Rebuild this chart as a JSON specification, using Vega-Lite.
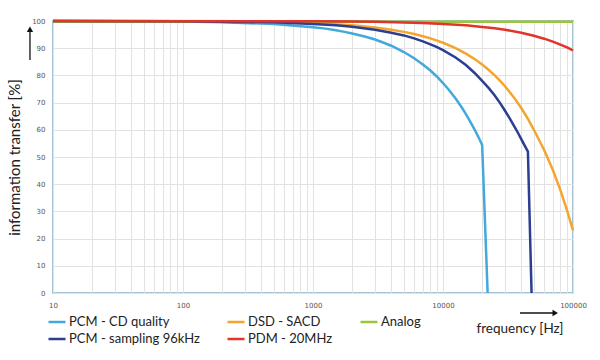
{
  "$schema": "https://vega.github.io/schema/vega-lite/v6.json",
  "width": 520,
  "height": 272,
  "autosize": "none",
  "padding": {"left": 53, "top": 21, "right": 27, "bottom": 67},
  "background": "white",
  "config": {
    "view": {"stroke": "#a4c3d4", "strokeWidth": 2},
    "font": "Lato"
  },
  "datasets": {
    "lines": [
      {"f": 10, "v": 100, "s": "PCM - CD quality"},
      {"f": 100, "v": 99.8, "s": "PCM - CD quality"},
      {"f": 200, "v": 99.5, "s": "PCM - CD quality"},
      {"f": 500, "v": 98.9, "s": "PCM - CD quality"},
      {"f": 1000, "v": 97.7, "s": "PCM - CD quality"},
      {"f": 1250, "v": 97.2, "s": "PCM - CD quality"},
      {"f": 1500, "v": 96.6, "s": "PCM - CD quality"},
      {"f": 1750, "v": 96, "s": "PCM - CD quality"},
      {"f": 2000, "v": 95.4, "s": "PCM - CD quality"},
      {"f": 2500, "v": 94.3, "s": "PCM - CD quality"},
      {"f": 3000, "v": 93.2, "s": "PCM - CD quality"},
      {"f": 3500, "v": 92, "s": "PCM - CD quality"},
      {"f": 4000, "v": 90.9, "s": "PCM - CD quality"},
      {"f": 5000, "v": 88.6, "s": "PCM - CD quality"},
      {"f": 6000, "v": 86.3, "s": "PCM - CD quality"},
      {"f": 7000, "v": 84, "s": "PCM - CD quality"},
      {"f": 8000, "v": 81.8, "s": "PCM - CD quality"},
      {"f": 9000, "v": 79.5, "s": "PCM - CD quality"},
      {"f": 10000, "v": 77.2, "s": "PCM - CD quality"},
      {"f": 11000, "v": 74.9, "s": "PCM - CD quality"},
      {"f": 12500, "v": 71.5, "s": "PCM - CD quality"},
      {"f": 14000, "v": 68.1, "s": "PCM - CD quality"},
      {"f": 15000, "v": 65.8, "s": "PCM - CD quality"},
      {"f": 16000, "v": 63.5, "s": "PCM - CD quality"},
      {"f": 17500, "v": 60.1, "s": "PCM - CD quality"},
      {"f": 19000, "v": 56.7, "s": "PCM - CD quality"},
      {"f": 20000, "v": 54.4, "s": "PCM - CD quality"},
      {"f": 22050, "v": 0, "s": "PCM - CD quality"},
      {"f": 10, "v": 100, "s": "DSD - SACD"},
      {"f": 100, "v": 99.9, "s": "DSD - SACD"},
      {"f": 500, "v": 99.6, "s": "DSD - SACD"},
      {"f": 1000, "v": 99.2, "s": "DSD - SACD"},
      {"f": 1500, "v": 98.8, "s": "DSD - SACD"},
      {"f": 2000, "v": 98.4, "s": "DSD - SACD"},
      {"f": 3000, "v": 97.6, "s": "DSD - SACD"},
      {"f": 4000, "v": 96.8, "s": "DSD - SACD"},
      {"f": 5000, "v": 96, "s": "DSD - SACD"},
      {"f": 6000, "v": 95.2, "s": "DSD - SACD"},
      {"f": 7000, "v": 94.4, "s": "DSD - SACD"},
      {"f": 8000, "v": 93.6, "s": "DSD - SACD"},
      {"f": 9000, "v": 92.8, "s": "DSD - SACD"},
      {"f": 10000, "v": 92, "s": "DSD - SACD"},
      {"f": 12500, "v": 90, "s": "DSD - SACD"},
      {"f": 15000, "v": 88, "s": "DSD - SACD"},
      {"f": 17500, "v": 86, "s": "DSD - SACD"},
      {"f": 20000, "v": 84, "s": "DSD - SACD"},
      {"f": 22500, "v": 82, "s": "DSD - SACD"},
      {"f": 25000, "v": 80, "s": "DSD - SACD"},
      {"f": 27500, "v": 78, "s": "DSD - SACD"},
      {"f": 30000, "v": 76, "s": "DSD - SACD"},
      {"f": 35000, "v": 72, "s": "DSD - SACD"},
      {"f": 40000, "v": 68, "s": "DSD - SACD"},
      {"f": 45000, "v": 64, "s": "DSD - SACD"},
      {"f": 50000, "v": 60, "s": "DSD - SACD"},
      {"f": 60000, "v": 52.6, "s": "DSD - SACD"},
      {"f": 70000, "v": 45.2, "s": "DSD - SACD"},
      {"f": 80000, "v": 37.8, "s": "DSD - SACD"},
      {"f": 90000, "v": 30.4, "s": "DSD - SACD"},
      {"f": 100000, "v": 23, "s": "DSD - SACD"},
      {"f": 10, "v": 99.7, "s": "Analog"},
      {"f": 100000, "v": 99.7, "s": "Analog"},
      {"f": 10, "v": 100, "s": "PCM - sampling 96kHz"},
      {"f": 100, "v": 99.9, "s": "PCM - sampling 96kHz"},
      {"f": 500, "v": 99.5, "s": "PCM - sampling 96kHz"},
      {"f": 1000, "v": 98.9, "s": "PCM - sampling 96kHz"},
      {"f": 1500, "v": 98.4, "s": "PCM - sampling 96kHz"},
      {"f": 2000, "v": 97.9, "s": "PCM - sampling 96kHz"},
      {"f": 3000, "v": 96.8, "s": "PCM - sampling 96kHz"},
      {"f": 4000, "v": 95.7, "s": "PCM - sampling 96kHz"},
      {"f": 5000, "v": 94.7, "s": "PCM - sampling 96kHz"},
      {"f": 6000, "v": 93.6, "s": "PCM - sampling 96kHz"},
      {"f": 7000, "v": 92.5, "s": "PCM - sampling 96kHz"},
      {"f": 8000, "v": 91.4, "s": "PCM - sampling 96kHz"},
      {"f": 9000, "v": 90.4, "s": "PCM - sampling 96kHz"},
      {"f": 10000, "v": 89.3, "s": "PCM - sampling 96kHz"},
      {"f": 12500, "v": 86.6, "s": "PCM - sampling 96kHz"},
      {"f": 15000, "v": 83.8, "s": "PCM - sampling 96kHz"},
      {"f": 17500, "v": 80.9, "s": "PCM - sampling 96kHz"},
      {"f": 20000, "v": 78, "s": "PCM - sampling 96kHz"},
      {"f": 22500, "v": 75.3, "s": "PCM - sampling 96kHz"},
      {"f": 25000, "v": 72.6, "s": "PCM - sampling 96kHz"},
      {"f": 27500, "v": 69.8, "s": "PCM - sampling 96kHz"},
      {"f": 30000, "v": 67, "s": "PCM - sampling 96kHz"},
      {"f": 32500, "v": 64.3, "s": "PCM - sampling 96kHz"},
      {"f": 35000, "v": 61.6, "s": "PCM - sampling 96kHz"},
      {"f": 37500, "v": 59.1, "s": "PCM - sampling 96kHz"},
      {"f": 40000, "v": 56.6, "s": "PCM - sampling 96kHz"},
      {"f": 42500, "v": 54.2, "s": "PCM - sampling 96kHz"},
      {"f": 45000, "v": 52, "s": "PCM - sampling 96kHz"},
      {"f": 48000, "v": 0, "s": "PCM - sampling 96kHz"},
      {"f": 10, "v": 100, "s": "PDM - 20MHz"},
      {"f": 1000, "v": 99.9, "s": "PDM - 20MHz"},
      {"f": 2000, "v": 99.8, "s": "PDM - 20MHz"},
      {"f": 3000, "v": 99.7, "s": "PDM - 20MHz"},
      {"f": 5000, "v": 99.45, "s": "PDM - 20MHz"},
      {"f": 7000, "v": 99.25, "s": "PDM - 20MHz"},
      {"f": 10000, "v": 98.9, "s": "PDM - 20MHz"},
      {"f": 15000, "v": 98.4, "s": "PDM - 20MHz"},
      {"f": 20000, "v": 97.8, "s": "PDM - 20MHz"},
      {"f": 25000, "v": 97.3, "s": "PDM - 20MHz"},
      {"f": 30000, "v": 96.8, "s": "PDM - 20MHz"},
      {"f": 40000, "v": 95.7, "s": "PDM - 20MHz"},
      {"f": 50000, "v": 94.6, "s": "PDM - 20MHz"},
      {"f": 60000, "v": 93.5, "s": "PDM - 20MHz"},
      {"f": 70000, "v": 92.4, "s": "PDM - 20MHz"},
      {"f": 80000, "v": 91.3, "s": "PDM - 20MHz"},
      {"f": 90000, "v": 90.3, "s": "PDM - 20MHz"},
      {"f": 100000, "v": 89.2, "s": "PDM - 20MHz"}
    ],
    "shafts": [
      {"f": 6.65, "v": 85.7, "f2": 6.65, "v2": 96},
      {"f": 39100, "v": -7.35, "f2": 70200, "v2": -7.35}
    ],
    "heads": [
      {"f": 6.65, "v": 97, "shape": "triangle-up"},
      {"f": 73000, "v": -7.35, "shape": "triangle-right"}
    ]
  },
  "encoding": {
    "x": {
      "field": "f",
      "type": "quantitative",
      "scale": {"type": "log", "domain": [10, 100000], "nice": false},
      "axis": {
        "values": [10, 20, 30, 40, 50, 60, 70, 80, 90, 100, 200, 300, 400, 500, 600, 700, 800, 900, 1000, 2000, 3000, 4000, 5000, 6000, 7000, 8000, 9000, 10000, 20000, 30000, 40000, 50000, 60000, 70000, 80000, 90000, 100000],
        "format": "d",
        "labelExpr": "indexof(['10','100','1000','10000','100000'], datum.label) >= 0 ? datum.label : ''",
        "grid": true,
        "gridColor": "#e2e2e2",
        "gridWidth": 1,
        "ticks": false,
        "domain": false,
        "labelFont": "DejaVu Sans",
        "labelFontSize": 7,
        "labelColor": "#555555",
        "labelPadding": 8,
        "labelFlush": false,
        "labelOverlap": false,
        "title": "frequency [Hz]",
        "titleFont": "Lato",
        "titleFontSize": 13.5,
        "titleFontWeight": "normal",
        "titleColor": "#222222",
        "titleAlign": "right",
        "titleBaseline": "middle",
        "titleX": 510,
        "titleY": 35
      }
    },
    "y": {
      "field": "v",
      "type": "quantitative",
      "scale": {"domain": [0, 100], "nice": false},
      "axis": {
        "values": [0, 10, 20, 30, 40, 50, 60, 70, 80, 90, 100],
        "grid": true,
        "gridColor": "#e2e2e2",
        "gridWidth": 1,
        "ticks": false,
        "domain": false,
        "labelFont": "DejaVu Sans",
        "labelFontSize": 7,
        "labelColor": "#555555",
        "labelPadding": 8,
        "labelFlush": false,
        "title": "information transfer [%]",
        "titleFont": "Lato",
        "titleFontSize": 15,
        "titleFontWeight": "normal",
        "titleColor": "#222222",
        "titleX": -31
      }
    }
  },
  "layer": [
    {
      "data": {"name": "lines"},
      "mark": {"type": "line", "strokeWidth": 2.5, "interpolate": "linear"},
      "encoding": {
        "color": {
          "field": "s",
          "type": "nominal",
          "scale": {
            "domain": ["PCM - CD quality", "DSD - SACD", "Analog", "PCM - sampling 96kHz", "PDM - 20MHz"],
            "range": ["#43a8dc", "#f3a530", "#9cc53c", "#2b3e91", "#e2352a"]
          },
          "legend": {
            "title": null,
            "orient": "none",
            "legendX": -6,
            "legendY": 291,
            "direction": "horizontal",
            "columns": 3,
            "columnPadding": 22,
            "rowPadding": 0,
            "padding": 0,
            "symbolType": "stroke",
            "symbolSize": 289,
            "symbolStrokeWidth": 2.5,
            "labelOffset": 2,
            "labelFont": "Lato",
            "labelFontSize": 13,
            "labelColor": "#222222",
            "labelLimit": 300
          }
        }
      }
    },
    {
      "data": {"name": "shafts"},
      "mark": {"type": "rule", "color": "#111111", "strokeWidth": 1.3},
      "encoding": {
        "x2": {"field": "f2"},
        "y2": {"field": "v2"}
      }
    },
    {
      "data": {"name": "heads"},
      "mark": {"type": "point", "filled": true, "color": "#111111", "size": 40, "opacity": 1},
      "encoding": {
        "shape": {"field": "shape", "type": "nominal", "scale": null}
      }
    }
  ]
}
